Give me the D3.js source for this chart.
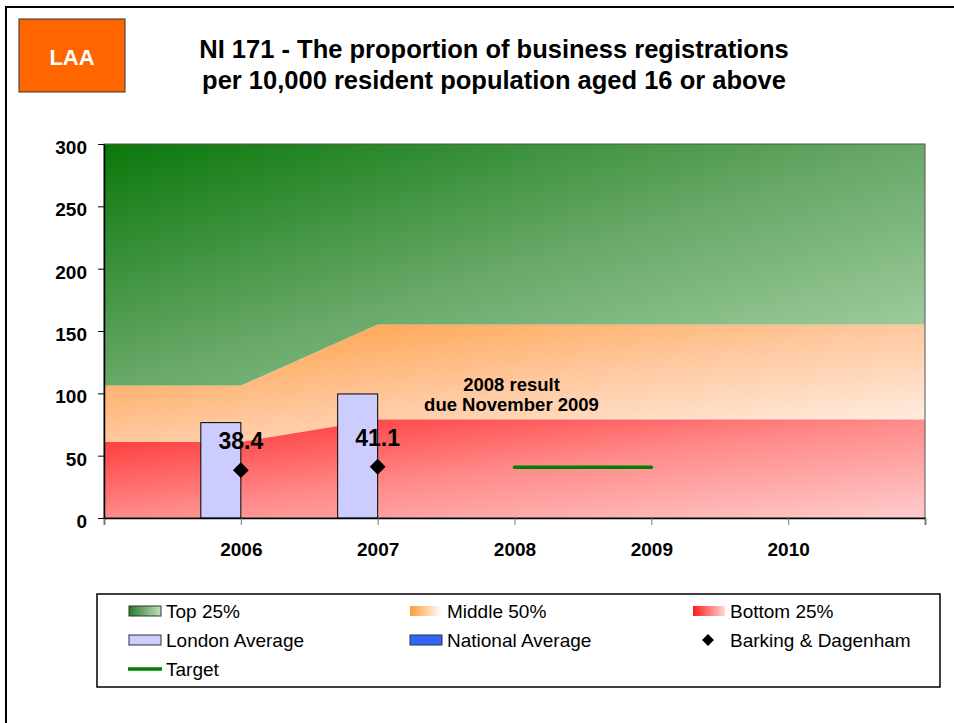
<!DOCTYPE html>
<html>
<head>
<meta charset="utf-8">
<script src="https://cdnjs.cloudflare.com/ajax/libs/d3/7.8.5/d3.min.js"></script>
<style>
  body { margin: 0; background: #fff; }
  text { font-family: "Liberation Sans", Arial, sans-serif; }
</style>
</head>
<body>
<div class="chart"></div>
<script>
// NI 171 chart data
var pointCats = ["start", "2006", "2007", "2008", "2009", "2010", "end"];
var years = ["2006", "2007", "2008", "2009", "2010"];
var bottom25Top = [61, 61, 79, 79, 79, 79, 79];
var middle50Top = [106, 106, 155, 155, 155, 155, 155];
var top25Top = [300, 300, 300, 300, 300, 300, 300];
var londonAvg = [76.5, 99.5, null, null, null];
var nationalAvg = [null, null, null, null, null];
var barking = [38.4, 41.1, null, null, null];
var targetYears = ["2008", "2009"];
var targetVals = [40.7, 40.7];
var yTicks = [0, 50, 100, 150, 200, 250, 300];

var svgWidth = 954;
var svgHeight = 723;
var margin = { top: 144, left: 104 };
var width = 821;
var height = 374;

var svg = d3.select(".chart")
    .append("svg")
    .attr("width", svgWidth)
    .attr("height", svgHeight);

var defs = svg.append("defs");
function addGrad(id, stops, x2, y2) {
    var g = defs.append("linearGradient").attr("id", id)
        .attr("x1", 0).attr("y1", 0).attr("x2", x2).attr("y2", y2);
    stops.forEach(function(s) {
        g.append("stop").attr("offset", s[0]).attr("stop-color", s[1]);
    });
}
addGrad("gTop", [["0%", "#0a780a"], ["50%", "#68a868"], ["100%", "#aed6ae"]], 1, 1);
addGrad("gMid", [["0%", "#ff9a3a"], ["50%", "#ffc89e"], ["100%", "#fff4ee"]], 1, 1);
addGrad("gBot", [["0%", "#ff2a2a"], ["50%", "#ff8a8a"], ["100%", "#ffcccc"]], 1, 1);
addGrad("lTop", [["0%", "#2a7a2a"], ["100%", "#c0e0c0"]], 1, 0);
addGrad("lMid", [["0%", "#ff9a3a"], ["100%", "#ffffff"]], 1, 0);
addGrad("lBot", [["0%", "#ff1a1a"], ["100%", "#ffd6d6"]], 1, 0);

// outer frame
svg.append("path")
    .attr("d", "M6,724 L6,7 L956,7")
    .attr("fill", "none")
    .attr("stroke", "#000")
    .attr("stroke-width", 2);

// LAA badge
svg.append("rect")
    .attr("x", 19).attr("y", 19).attr("width", 106).attr("height", 73)
    .attr("fill", "#ff6600").attr("stroke", "#333").attr("stroke-width", 1);
svg.append("text")
    .attr("x", 72).attr("y", 65)
    .attr("text-anchor", "middle")
    .attr("font-size", "22px").attr("font-weight", "bold")
    .attr("fill", "#fff")
    .text("LAA");

// title
var title = svg.append("text")
    .attr("text-anchor", "middle")
    .attr("font-size", "25.5px").attr("font-weight", "bold")
    .attr("fill", "#000");
title.append("tspan").attr("x", 494).attr("y", 58)
    .text("NI 171 - The proportion of business registrations");
title.append("tspan").attr("x", 494).attr("y", 89)
    .text("per 10,000 resident population aged 16 or above");

var chart = svg.append("g")
    .attr("transform", "translate(" + margin.left + "," + margin.top + ")");

var xPoint = d3.scalePoint().domain(pointCats).range([0, width]);
var step = xPoint.step();
var xBand = d3.scaleBand().domain(pointCats).range([-step / 2, width + step / 2]);
var xSub = d3.scaleBand().domain(["London Average", "National Average"])
    .range([0, xBand.bandwidth()]).paddingOuter(0.71);
var y = d3.scaleLinear().domain([0, 300]).range([height, 0]);

// stacked bands
var idx = d3.range(pointCats.length);
function band(lo, hi, fill) {
    var area = d3.area()
        .x(function(i) { return xPoint(pointCats[i]); })
        .y0(function(i) { return y(lo ? lo[i] : 0); })
        .y1(function(i) { return y(hi[i]); });
    chart.append("path").datum(idx).attr("d", area).attr("fill", fill);
}
band(middle50Top, top25Top, "url(#gTop)");
band(bottom25Top, middle50Top, "url(#gMid)");
band(null, bottom25Top, "url(#gBot)");

// plot border
chart.append("rect")
    .attr("width", width).attr("height", height)
    .attr("fill", "none").attr("stroke", "#555").attr("stroke-width", 1);

// London average bars
chart.selectAll(".bar")
    .data(years.map(function(d, i) { return { year: d, value: londonAvg[i] }; })
        .filter(function(d) { return d.value != null; }))
    .enter().append("rect")
    .attr("class", "bar")
    .attr("x", function(d) { return xBand(d.year) + xSub("London Average"); })
    .attr("y", function(d) { return y(d.value); })
    .attr("width", xSub.bandwidth())
    .attr("height", function(d) { return height - y(d.value); })
    .attr("fill", "#ccccff")
    .attr("stroke", "#000")
    .attr("stroke-width", 1);

// target line
var targetLine = d3.line()
    .x(function(d) { return xPoint(d.year); })
    .y(function(d) { return y(d.value); });
chart.append("path")
    .datum(targetYears.map(function(d, i) { return { year: d, value: targetVals[i] }; }))
    .attr("d", targetLine)
    .attr("fill", "none")
    .attr("stroke", "#008000")
    .attr("stroke-width", 3.5)
    .attr("stroke-linecap", "round");

// Barking & Dagenham points
var bdData = years.map(function(d, i) { return { year: d, value: barking[i] }; })
    .filter(function(d) { return d.value != null; });
var diamond = d3.symbol().type(d3.symbolSquare).size(125);
chart.selectAll(".bd")
    .data(bdData)
    .enter().append("path")
    .attr("class", "bd")
    .attr("d", diamond)
    .attr("transform", function(d) {
        return "translate(" + xPoint(d.year) + "," + y(d.value) + ") rotate(45)";
    })
    .attr("fill", "#000");
chart.selectAll(".bdlabel")
    .data(bdData)
    .enter().append("text")
    .attr("class", "bdlabel")
    .attr("x", function(d) { return xPoint(d.year); })
    .attr("y", function(d) { return y(d.value) - 21; })
    .attr("text-anchor", "middle")
    .attr("font-size", "23px").attr("font-weight", "bold")
    .text(function(d) { return d.value.toFixed(1); });

// annotation
var note = chart.append("text")
    .attr("text-anchor", "middle")
    .attr("font-size", "18.5px").attr("font-weight", "bold");
note.append("tspan").attr("x", xPoint("2008") - 3).attr("y", y(101.5)).text("2008 result");
note.append("tspan").attr("x", xPoint("2008") - 3).attr("y", y(85.5)).text("due November 2009");

// axes
var xAxis = d3.axisBottom(xPoint).tickSize(7).tickPadding(18)
    .tickFormat(function(d) { return years.indexOf(d) >= 0 ? d : ""; });
var gx = chart.append("g").attr("transform", "translate(0," + height + ")").call(xAxis);
gx.select(".domain").attr("stroke", "#000").attr("stroke-width", 1.5);
gx.selectAll(".tick line").attr("stroke", "#777");
gx.selectAll("text").attr("font-size", "19px").attr("font-weight", "bold")
    .attr("font-family", "Liberation Sans, Arial, sans-serif").attr("fill", "#000");

var yAxis = d3.axisLeft(y).tickValues(yTicks).tickSize(6).tickPadding(11).tickSizeOuter(0);
var gy = chart.append("g").call(yAxis);
gy.select(".domain").attr("stroke", "#000").attr("stroke-width", 1.5);
gy.selectAll(".tick line").attr("stroke", "#000");
gy.selectAll("text").attr("font-size", "19px").attr("font-weight", "bold").attr("dy", "0.5em")
    .attr("font-family", "Liberation Sans, Arial, sans-serif").attr("fill", "#000");

// legend
var legend = svg.append("g");
legend.append("rect")
    .attr("x", 97).attr("y", 594).attr("width", 843).attr("height", 93)
    .attr("fill", "#fff").attr("stroke", "#000").attr("stroke-width", 1.5);
var legendItems = [
    { name: "Top 25%", kind: "swatch", fill: "url(#lTop)", stroke: "#333" },
    { name: "Middle 50%", kind: "swatch", fill: "url(#lMid)", stroke: "none" },
    { name: "Bottom 25%", kind: "swatch", fill: "url(#lBot)", stroke: "none" },
    { name: "London Average", kind: "swatch", fill: "#ccccff", stroke: "#333" },
    { name: "National Average", kind: "swatch", fill: "#3366ff", stroke: "#333" },
    { name: "Barking & Dagenham", kind: "diamond" },
    { name: "Target", kind: "line" }
];
var colX = [129, 410, 693];
var rowY = [611, 640, 669];
legendItems.forEach(function(d, i) {
    var lx = colX[i % 3], ly = rowY[Math.floor(i / 3)];
    var g = legend.append("g");
    if (d.kind === "swatch") {
        g.append("rect").attr("x", lx).attr("y", ly - 5).attr("width", 32).attr("height", 10)
            .attr("fill", d.fill).attr("stroke", d.stroke).attr("stroke-width", 1);
    } else if (d.kind === "diamond") {
        g.append("path").attr("d", d3.symbol().type(d3.symbolSquare).size(70))
            .attr("transform", "translate(" + (lx + 15) + "," + ly + ") rotate(45)")
            .attr("fill", "#000");
    } else {
        g.append("line").attr("x1", lx - 1).attr("x2", lx + 33).attr("y1", ly).attr("y2", ly)
            .attr("stroke", "#008000").attr("stroke-width", 3.5);
    }
    g.append("text").attr("x", lx + 37).attr("y", ly).attr("dy", "0.35em")
        .attr("font-size", "19px").attr("fill", "#000").text(d.name);
});
</script>
</body>
</html>
